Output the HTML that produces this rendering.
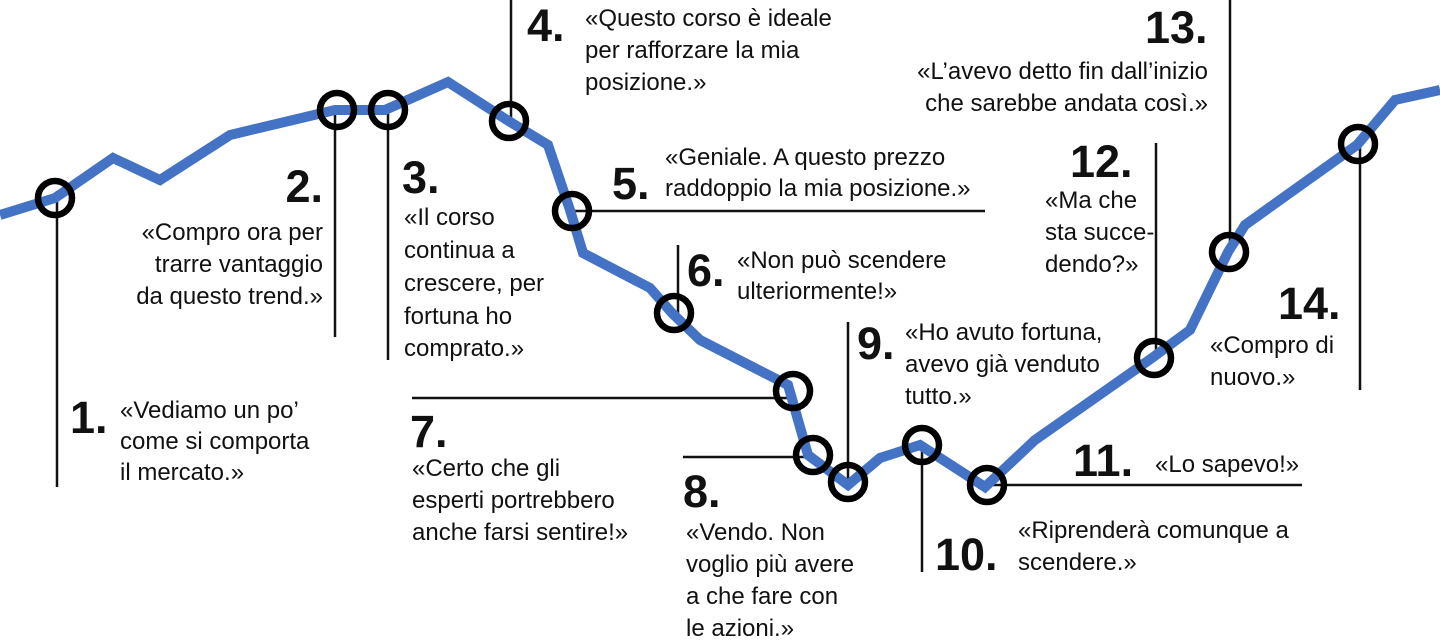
<!DOCTYPE html>
<html><head><meta charset="utf-8"><style>
html,body{margin:0;padding:0;background:#fff;}
svg{display:block;}
text{font-family:"Liberation Sans",sans-serif;fill:#111;}
.q{font-size:24px;}
.n{font-size:45px;font-weight:bold;}
</style></head><body>
<svg width="1440" height="641" viewBox="0 0 1440 641">
<g stroke="#111" stroke-width="2.5" fill="none">
<line x1="57" y1="198" x2="57" y2="487"/>
<line x1="335" y1="110" x2="335" y2="337"/>
<line x1="388" y1="110" x2="388" y2="360"/>
<line x1="511" y1="0" x2="511" y2="120"/>
<line x1="570" y1="211" x2="985" y2="211"/>
<line x1="678" y1="245" x2="678" y2="313"/>
<line x1="412" y1="398" x2="788" y2="398"/>
<line x1="683" y1="457" x2="808" y2="457"/>
<line x1="848" y1="322" x2="848" y2="480"/>
<line x1="922" y1="445" x2="922" y2="572"/>
<line x1="985" y1="485" x2="1302" y2="485"/>
<line x1="1156" y1="143" x2="1156" y2="358"/>
<line x1="1230" y1="0" x2="1230" y2="252"/>
<line x1="1360" y1="145" x2="1360" y2="390"/>
</g>
<polyline fill="none" stroke="#4472C4" stroke-width="10" stroke-linejoin="miter" points="0,215 55,198 113,158 160,180 230,135 335,110 385,110 448,82 507,120 548,145 570,210 583,253 650,288 672,313 700,340 788,385 808,455 848,485 880,458 920,445 985,487 1035,440 1152,358 1190,330 1228,252 1245,225 1357,145 1395,100 1440,90"/>
<g stroke="#000" stroke-width="6.5" fill="none">
<circle cx="55" cy="198" r="17"/>
<circle cx="337" cy="110" r="17"/>
<circle cx="388" cy="110" r="17"/>
<circle cx="509" cy="121" r="17"/>
<circle cx="572" cy="211" r="17"/>
<circle cx="674" cy="313" r="17"/>
<circle cx="793" cy="391" r="17"/>
<circle cx="813" cy="455" r="17"/>
<circle cx="848" cy="482" r="17"/>
<circle cx="922" cy="445" r="17"/>
<circle cx="987" cy="485" r="17"/>
<circle cx="1154" cy="358" r="17"/>
<circle cx="1229" cy="252" r="17"/>
<circle cx="1358" cy="144" r="17"/>
</g>
<text class="n" x="70" y="433">1.</text>
<text class="q" x="120" y="418">«Vediamo un po’</text>
<text class="q" x="120" y="449">come si comporta</text>
<text class="q" x="120" y="480">il mercato.»</text>
<text class="n" x="323" y="202" text-anchor="end">2.</text>
<text class="q" x="323" y="240" text-anchor="end">«Compro ora per</text>
<text class="q" x="323" y="272" text-anchor="end">trarre vantaggio</text>
<text class="q" x="323" y="304" text-anchor="end">da questo trend.»</text>
<text class="n" x="402" y="193">3.</text>
<text class="q" x="404" y="225">«Il corso</text>
<text class="q" x="404" y="258">continua a</text>
<text class="q" x="404" y="291">crescere, per</text>
<text class="q" x="404" y="324">fortuna ho</text>
<text class="q" x="404" y="356">comprato.»</text>
<text class="n" x="527" y="41">4.</text>
<text class="q" x="585" y="26">«Questo corso è ideale</text>
<text class="q" x="585" y="58">per rafforzare la mia</text>
<text class="q" x="585" y="90">posizione.»</text>
<text class="n" x="612" y="199">5.</text>
<text class="q" x="665" y="165">«Geniale. A questo prezzo</text>
<text class="q" x="665" y="196">raddoppio la mia posizione.»</text>
<text class="n" x="687" y="286">6.</text>
<text class="q" x="737" y="268">«Non può scendere</text>
<text class="q" x="737" y="299">ulteriormente!»</text>
<text class="n" x="410" y="447">7.</text>
<text class="q" x="412" y="476">«Certo che gli</text>
<text class="q" x="412" y="508">esperti portrebbero</text>
<text class="q" x="412" y="540">anche farsi sentire!»</text>
<text class="n" x="683" y="507">8.</text>
<text class="q" x="686" y="540">«Vendo. Non</text>
<text class="q" x="686" y="572">voglio più avere</text>
<text class="q" x="686" y="604">a che fare con</text>
<text class="q" x="686" y="636">le azioni.»</text>
<text class="n" x="857" y="359">9.</text>
<text class="q" x="905" y="340">«Ho avuto fortuna,</text>
<text class="q" x="905" y="372">avevo già venduto</text>
<text class="q" x="905" y="404">tutto.»</text>
<text class="n" x="935" y="570">10.</text>
<text class="q" x="1018" y="538">«Riprenderà comunque a</text>
<text class="q" x="1018" y="570">scendere.»</text>
<text class="n" x="1073" y="476">11.</text>
<text class="q" x="1155" y="472">«Lo sapevo!»</text>
<text class="n" x="1070" y="177">12.</text>
<text class="q" x="1045" y="208">«Ma che</text>
<text class="q" x="1045" y="240">sta succe-</text>
<text class="q" x="1045" y="272">dendo?»</text>
<text class="n" x="1145" y="43">13.</text>
<text class="q" x="1208" y="79" text-anchor="end">«L’avevo detto fin dall’inizio</text>
<text class="q" x="1208" y="111" text-anchor="end">che sarebbe andata così.»</text>
<text class="n" x="1278" y="319">14.</text>
<text class="q" x="1210" y="353">«Compro di</text>
<text class="q" x="1210" y="385">nuovo.»</text>
</svg>
</body></html>
